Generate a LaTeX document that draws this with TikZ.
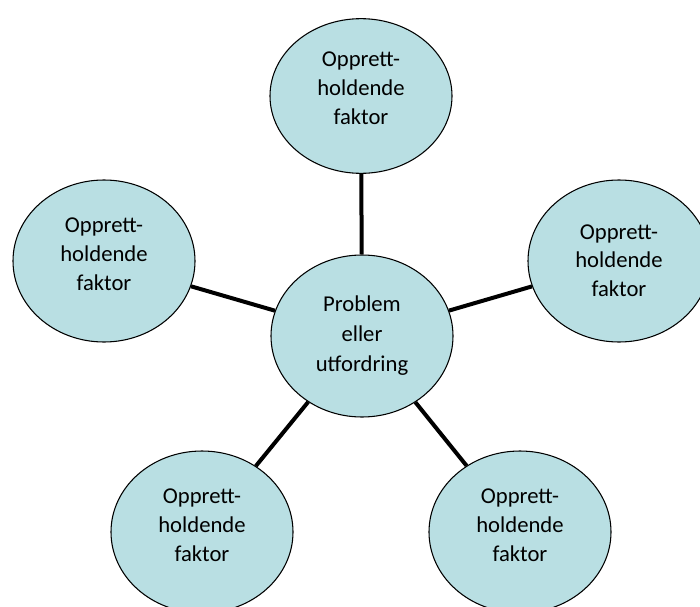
\documentclass[tikz,border=0pt]{standalone}
\usepackage{fontspec}
\setmainfont{Carlito}
\usepackage{xcolor}
\usetikzlibrary{shapes.geometric, positioning}
\definecolor{bubbleblue}{RGB}{185, 223, 227}

\begin{document}
\begin{tikzpicture}[
      x=0.75pt, y=-0.75pt,
      bubble/.style={ellipse, draw=black, line width=0.8pt,
                     fill=bubbleblue, align=center, inner sep=0pt,
                     minimum width=136.5pt, minimum height=121.5pt,
                     font=\fontsize{17}{21.5}\selectfont},
      factor/.style={bubble, text depth=10.5pt},
      link/.style={line width=3pt, black}
    ]
    \useasboundingbox (0,0) rectangle (700,607);
    % factors round the problem
    \node[factor, minimum height=116pt, text depth=12pt] (top) at (361,96)
      {Opprett-\\holdende\\faktor};
    \node[factor] (left) at (104,261) {Opprett-\\holdende\\faktor};
    \node[factor, text depth=1pt] (right) at (619,261) {Opprett-\\holdende\\faktor};
    \node[factor] (botl) at (202,532) {Opprett-\\holdende\\faktor};
    \node[factor] (botr) at (520,532) {Opprett-\\holdende\\faktor};
    % the problem itself
    \node[bubble, font=\fontsize{17}{22.5}\selectfont] (prob) at (362,336)
      {Problem\\eller\\utfordring};
    \draw[link] (prob) -- (top);
    \draw[link] (prob) -- (left);
    \draw[link] (prob) -- (right);
    \draw[link] (prob) -- (botl);
    \draw[link] (prob) -- (botr);
  \end{tikzpicture}
\end{document}
